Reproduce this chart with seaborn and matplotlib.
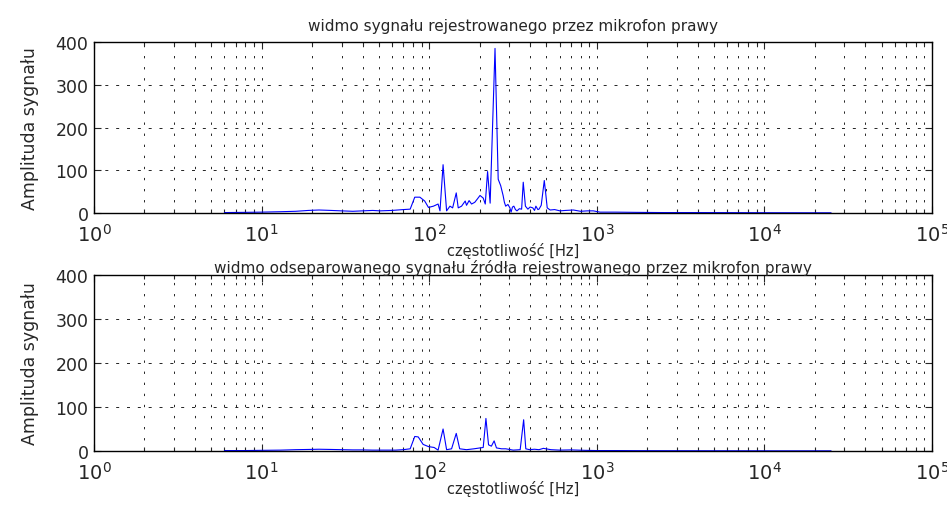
import numpy as np
import pandas as pd
import matplotlib
matplotlib.use("Agg")
import matplotlib.pyplot as plt
import seaborn as sns

# ---- data ----
freq_top = [6, 8, 10, 13, 16, 19, 22, 26, 30, 35, 40, 46, 51, 60, 70, 77, 82, 88, 94, 99,
            106, 113, 116, 121, 127, 133, 138, 145, 149, 156, 164, 167, 173, 179, 187, 194,
            201, 210, 216, 223, 231, 247, 258, 267, 276, 281, 286, 295, 303, 308, 314, 320,
            327, 334, 345, 356, 364, 375, 388, 400, 415, 425, 433, 445, 452, 466, 486, 495,
            506, 527, 560, 603, 650, 725, 800, 880, 953, 1046, 1300, 1700, 2500, 4000, 7000,
            12000, 18000, 25000]
amp_top = [1, 1.5, 2, 3, 4, 6, 7, 6, 5, 4, 5, 6, 5, 6, 8, 9, 37, 37, 28, 13,
           16, 21, 5, 113, 5, 16, 12, 47, 12, 16, 28, 18, 29, 21, 25, 33,
           41, 35, 21, 97, 23, 385, 79, 64, 41, 25, 16, 20, 12, 2, 14, 16,
           8, 5, 10, 9, 72, 16, 9, 14, 12, 6, 16, 8, 9, 18, 76, 48,
           12, 7, 8, 5, 6, 7, 4, 5, 5, 2, 2, 1.5, 1, 1, 0.8,
           0.6, 0.5, 0.5]

freq_bot = [6, 8, 10, 13, 16, 19, 22, 26, 30, 35, 40, 46, 51, 63, 70, 77, 82, 86, 92, 99,
            107, 113, 121, 127, 136, 145, 152, 167, 185, 201, 210, 218, 226, 235, 244, 252,
            270, 286, 317, 349, 366, 377, 397, 424, 452, 480, 532, 600, 700, 850, 1000,
            1300, 1700, 2500, 4000, 7000, 12000, 18000, 25000]
amp_bot = [1, 1, 1.5, 2, 3, 3.5, 4, 3.5, 3, 2.5, 2.5, 2, 2, 2, 3, 5, 33, 32, 15, 10,
           8, 2, 50, 3, 5, 40, 5, 3, 5, 7, 8, 74, 14, 11, 23, 7,
           5, 5, 2, 3, 71, 5, 3, 4, 3, 6, 3, 2, 2.5, 1.5, 1,
           1, 0.8, 0.7, 0.6, 0.5, 0.4, 0.4, 0.4]

titles = ["widmo sygnału rejestrowanego przez mikrofon prawy",
          "widmo odseparowanego sygnału źródła rejestrowanego przez mikrofon prawy"]
xlabel = "częstotliwość [Hz]"
ylabel = "Amplituda sygnału"
yticks = [0, 100, 200, 300, 400]

sns.set_style("ticks")
plt.rcParams['font.family'] = ['DejaVu Sans']
plt.rcParams['mathtext.default'] = 'regular'

fig = plt.figure(figsize=(9.47, 5.06), dpi=100)
ax1 = fig.add_axes([94/947, 1-214/506, 838/947, 171/506])
ax2 = fig.add_axes([94/947, 1-452/506, 838/947, 176/506])

datasets = [(freq_top, amp_top), (freq_bot, amp_bot)]
title_pads = [9, 0]
for ax, (f, a), title, tp in zip([ax1, ax2], datasets, titles, title_pads):
    df = pd.DataFrame({"f": f, "a": a})
    sns.lineplot(data=df, x="f", y="a", ax=ax, color="#0000ff", linewidth=0.8,
                 estimator=None, sort=True)
    ax.set_xscale("log")
    ax.set_xlim(1, 1e5)
    ax.set_ylim(0, 400)
    ax.set_yticks(yticks)
    ax.set_xlabel(xlabel, fontsize=10.5, labelpad=-2)
    ax.set_ylabel(ylabel, fontsize=12.5, labelpad=12)
    ax.set_title(title, fontsize=11, pad=tp)
    ax.tick_params(axis='both', which='both', direction='in', top=True, right=True)
    ax.tick_params(axis='both', which='major', length=5, width=0.8)
    ax.tick_params(axis='x', which='minor', length=3, width=0.8)
    ax.tick_params(axis='x', which='major', labelsize=14, pad=7)
    ax.tick_params(axis='y', which='major', labelsize=12.5, pad=4)
    ax.xaxis.set_major_locator(matplotlib.ticker.LogLocator(base=10, numticks=10))
    ax.xaxis.set_minor_locator(matplotlib.ticker.LogLocator(base=10, subs=np.arange(2, 10), numticks=20))
    ax.xaxis.set_minor_formatter(matplotlib.ticker.NullFormatter())
    ax.grid(True, axis='x', which='both', color='black', linewidth=0.6,
            linestyle=(0, (2.8, 10.5)))
    ax.grid(True, axis='y', which='major', color='black', linewidth=0.6,
            linestyle=(0, (3.6, 9.4)))
    for s in ax.spines.values():
        s.set_visible(True)
        s.set_linewidth(1.0)
        s.set_color('black')

fig.savefig("out.png", dpi=100)
